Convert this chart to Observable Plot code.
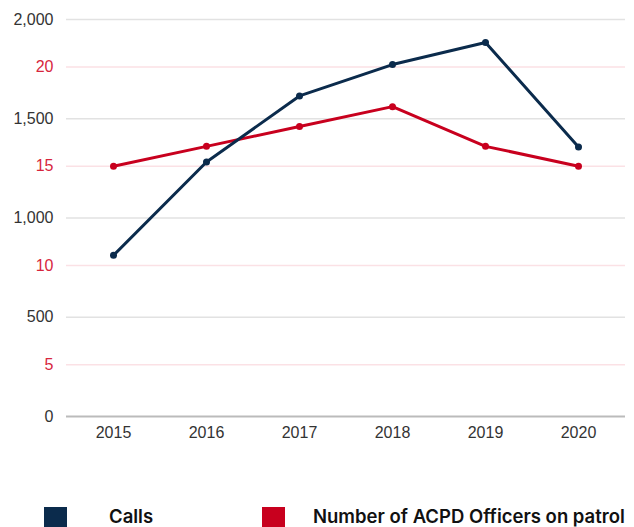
<!DOCTYPE html>
<html>
<head>
<meta charset="utf-8">
<script src="https://cdn.jsdelivr.net/npm/d3@7"></script>
<script src="https://cdn.jsdelivr.net/npm/@observablehq/plot@0.6"></script>
<style>
  html, body { margin: 0; padding: 0; background: #fff; }
  #wrap { position: relative; width: 634px; height: 527px; overflow: hidden; }
  #legend { position: absolute; left: 0; top: 504px; width: 634px; height: 24px;
    font-family: Inter, Roboto, "Liberation Sans", sans-serif; font-weight: 600; font-size: 18.5px; color: #111; }
  .sw { position: absolute; top: 3px; width: 23px; height: 22px; }
  .lb { position: absolute; top: 0px; line-height: 24px; white-space: nowrap; }
</style>
</head>
<body>
<div id="wrap">
  <div id="chart"></div>
  <div id="legend"></div>
</div>
<script>
const years = ["2015", "2016", "2017", "2018", "2019", "2020"];
const calls = [812, 1282, 1615, 1773, 1884, 1358];
const officers = [15, 16, 17, 18, 16, 15];
const callTicks = [0, 500, 1000, 1500, 2000];
const officerTicks = [5, 10, 15, 20];
const seriesNames = ["Calls", "Number of ACPD Officers on patrol"];
const navy = "#0b2b4c";
const red = "#c8001e";

// secondary axis mapping: officers -> calls scale
const offScale = 100, offShift = 239;
const toCalls = v => v * offScale - offShift;

const callData = years.map((y, i) => ({year: y, value: calls[i]}));
const offData = years.map((y, i) => ({year: y, value: toCalls(officers[i])}));

const chart = Plot.plot({
  width: 634,
  height: 450,
  marginTop: 19,
  marginBottom: 34,
  marginLeft: 66,
  marginRight: 9,
  style: {fontFamily: "'Liberation Sans', Arial, sans-serif", fontSize: "16px", color: "#333", background: "#fff"},
  x: {type: "point", domain: years, padding: 0.5},
  y: {domain: [0, 2000]},
  marks: [
    Plot.ruleY(callTicks.filter(d => d > 0), {stroke: "#e2e2e2", strokeWidth: 1.5}),
    Plot.ruleY(officerTicks.map(toCalls), {stroke: "#fbe1e5", strokeWidth: 1.5}),
    Plot.ruleY([0], {stroke: "#bbbbbb", strokeWidth: 2}),
    Plot.axisY(callTicks, {tickSize: 0, tickPadding: 13, tickFormat: d3.format(","), fill: "#333", fontSize: 16, label: null}),
    Plot.axisY(officerTicks.map(toCalls), {tickSize: 0, tickPadding: 13, tickFormat: d => String(Math.round((d + offShift) / offScale)), fill: "#d7263d", fontSize: 16, label: null}),
    Plot.axisX({tickSize: 0, tickPadding: 10, fill: "#333", fontSize: 16, label: null}),
    Plot.line(offData, {x: "year", y: "value", stroke: red, strokeWidth: 3}),
    Plot.dot(offData, {x: "year", y: "value", fill: red, r: 3.5}),
    Plot.line(callData, {x: "year", y: "value", stroke: navy, strokeWidth: 3}),
    Plot.dot(callData, {x: "year", y: "value", fill: navy, r: 3.5})
  ]
});
document.getElementById("chart").appendChild(chart);

const legend = document.getElementById("legend");
const items = [
  {name: seriesNames[0], color: navy, sx: 44, tx: 109},
  {name: seriesNames[1], color: red, sx: 262, tx: 313}
];
for (const it of items) {
  const s = document.createElement("div");
  s.className = "sw"; s.style.left = it.sx + "px"; s.style.background = it.color;
  const t = document.createElement("div");
  t.className = "lb"; t.style.left = it.tx + "px"; t.textContent = it.name;
  legend.appendChild(s); legend.appendChild(t);
}
</script>
</body>
</html>
